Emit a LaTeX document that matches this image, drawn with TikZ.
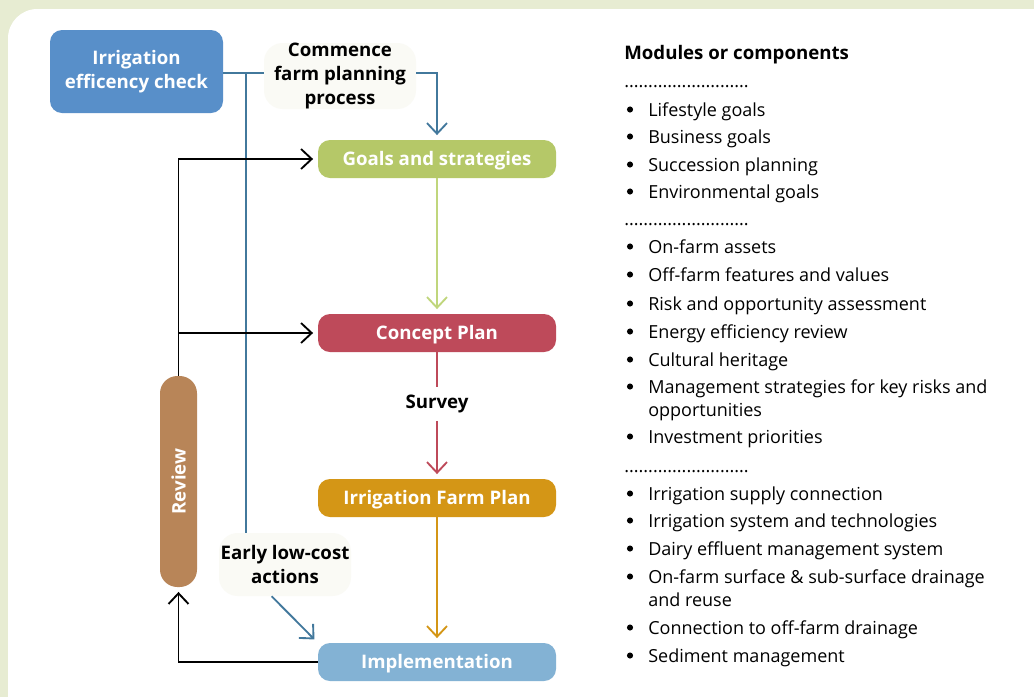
\documentclass[tikz,border=0pt]{standalone}
\usepackage{fontspec}
\setmainfont{Open Sans}
\usetikzlibrary{arrows.meta}
\definecolor{pageGreen}{RGB}{231,236,210}
\definecolor{chkBlue}{RGB}{88,143,201}
\definecolor{lineBlue}{RGB}{66,120,156}
\definecolor{goalGreen}{RGB}{181,200,104}
\definecolor{arrowGreen}{RGB}{192,214,124}
\definecolor{planRed}{RGB}{190,74,90}
\definecolor{farmGold}{RGB}{212,150,22}
\definecolor{implBlue}{RGB}{131,178,212}
\definecolor{reviewBrown}{RGB}{184,133,88}
\definecolor{labelCream}{RGB}{250,250,245}

\tikzset{
  stage/.style={rounded corners=9pt, minimum width=178.5pt, minimum height=28.5pt,
    inner sep=0pt, text height=10pt, text depth=0pt, text=white,
    font=\fontsize{14}{18}\selectfont\bfseries},
  tag/.style={fill=labelCream, rounded corners=14pt, align=center, inner sep=0pt,
    font=\fontsize{14}{18}\selectfont\bfseries},
  flow/.style={line width=1.4pt, -{Straight Barb[length=8pt,width=15pt]}, shorten >=3.5pt},
  link/.style={line width=1.4pt},
  listitem/.style={anchor=base west, inner sep=0pt, font=\fontsize{13.5}{18}\selectfont},
  bullet/.style={circle, fill=black, inner sep=0pt, minimum size=4.6pt},
}

\begin{document}
\begin{tikzpicture}[x=0.75pt, y=-0.75pt]
  \useasboundingbox (0,0) rectangle (1034,697);
  \fill[pageGreen] (0,0) rectangle (1034,697);
  \fill[white, rounded corners=22pt] (8,9) rectangle (1070,730);

  % process boxes
  \node[stage, fill=chkBlue, minimum width=129.75pt, minimum height=62.25pt, align=center,
    text height={}, text depth={}] (check) at (136.5,71.5) {Irrigation\\efficency check};
  \node[stage, fill=goalGreen] (goals) at (437,159) {Goals and strategies};
  \node[stage, fill=planRed] (concept) at (437,333) {Concept Plan};
  \node[stage, fill=farmGold] (farm) at (437,498) {Irrigation Farm Plan};
  \node[stage, fill=implBlue] (impl) at (437,662) {Implementation};
  \node[stage, fill=reviewBrown, rounded corners=13pt, minimum width=27.75pt,
    minimum height=158.25pt, text height={}, text depth={}] (review) at (178.5,481.5)
    {\rotatebox{90}{Review}};

  % labels on the connectors
  \node[tag, minimum width=114pt, minimum height=46.5pt] (commence) at (340,76)
    {Commence\\farm planning\\process};
  \node[tag, minimum width=99pt, minimum height=47.25pt] (early) at (285,564.5)
    {Early low-cost\\actions};
  \node[inner sep=0pt, minimum height=24.75pt, font=\fontsize{14}{18}\selectfont\bfseries]
    (survey) at (437,404) {Survey};

  % main flow
  \draw[flow, arrowGreen] (goals) -- (concept);
  \draw[link, planRed] (concept) -- (survey);
  \draw[flow, planRed] (survey) -- (farm);
  \draw[flow, farmGold] (farm) -- (impl);

  % irrigation check branch
  \coordinate (split) at (246,73);
  \draw[link, lineBlue] (check.east |- split) -- (commence.west |- split);
  \draw[flow, lineBlue] (commence.east |- split) -| (goals.north);
  \draw[link, lineBlue] (split) -- (split |- early.north);
  \draw[flow, lineBlue] ([xshift=-10]early.south) -- (impl.north west);

  % review loop
  \draw[flow, black] (review.north) |- (goals.west);
  \draw[flow, black] (review.north |- concept.west) -- (concept.west);
  \draw[flow, black] (impl.west) -| (review.south);

  % modules list
  \node[listitem, font=\fontsize{14}{18}\selectfont\bfseries] (modhead) at (624,59)
    {Modules or components};
  \foreach \y [count=\i] in {87,225,472}
    \node[listitem] (sep\i) at (624,\y) {..........................};
  \foreach \y/\t [count=\i] in {116/Lifestyle goals, 143/Business goals,
      171/Succession planning, 198/Environmental goals, 253/On-farm assets,
      281/Off-farm features and values, 310/Risk and opportunity assessment,
      338/Energy efficiency review, 366/Cultural heritage,
      393/Management strategies for key risks and,
      443/Investment priorities, 500/Irrigation supply connection,
      527/Irrigation system and technologies, 555/Dairy effluent management system,
      583/On-farm surface \& sub-surface drainage,
      634/Connection to off-farm drainage, 662/Sediment management} {
    \node[bullet] (dot\i) at (630,\y-6.5) {};
    \node[listitem] (mod\i) at (648,\y) {\t};
  }
  % second lines of the long items
  \node[listitem] (mod10b) at (648,416) {opportunities};
  \node[listitem] (mod15b) at (648,606) {and reuse};
\end{tikzpicture}
\end{document}
